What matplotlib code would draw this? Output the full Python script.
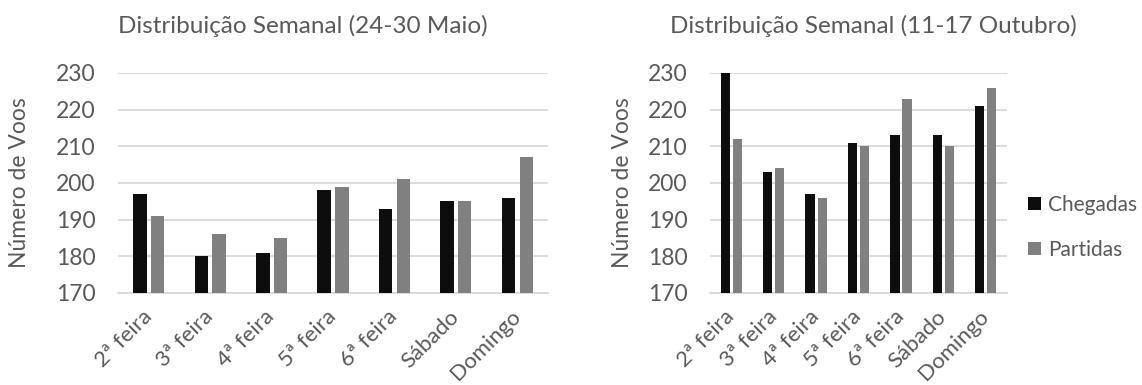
import matplotlib.pyplot as plt
import numpy as np

dias = ['2ª feira', '3ª feira', '4ª feira', '5ª feira', '6ª feira', 'Sábado', 'Domingo']
maio_chegadas = [197, 180, 181, 198, 193, 195, 196]
maio_partidas = [191, 186, 185, 199, 201, 195, 207]
out_chegadas = [230, 203, 197, 211, 213, 213, 221]
out_partidas = [212, 204, 196, 210, 223, 210, 226]
titulos = ['Distribuição Semanal (24-30 Maio)', 'Distribuição Semanal (11-17 Outubro)']

plt.rcParams['font.family'] = ['Lato', 'DejaVu Sans']
txt = '#595959'
fs = 16.5

fig = plt.figure(figsize=(11.42, 3.85), dpi=100)
ax1 = fig.add_axes([0.1033, 0.239, 0.3765, 0.5714])
ax2 = fig.add_axes([0.6217, 0.239, 0.2600, 0.5714])

x = np.arange(len(dias))
for ax, ch, pa in [(ax1, maio_chegadas, maio_partidas), (ax2, out_chegadas, out_partidas)]:
    ax.bar(x - 0.142, np.array(ch) - 170, 0.22, bottom=170, color='#0d0d0d', label='Chegadas', zorder=3)
    ax.bar(x + 0.146, np.array(pa) - 170, 0.215, bottom=170, color='#808080', label='Partidas', zorder=3)
    ax.set_ylim(170, 230)
    ax.set_xlim(-0.5, len(dias) - 0.5)
    ax.set_yticks(range(170, 231, 10))
    ax.grid(axis='y', color='#d9d9d9', linewidth=1.3, zorder=0)
    for s in ['top', 'right', 'left']:
        ax.spines[s].set_visible(False)
    ax.spines['bottom'].set_color('#d9d9d9')
    ax.spines['bottom'].set_linewidth(1.3)
    ax.tick_params(length=0, labelsize=fs, labelcolor=txt)
    ax.tick_params(axis='y', pad=16)
    ax.set_xticks(x)
    ax.set_xticklabels(dias, rotation=45, ha='right', va='center', rotation_mode='anchor', fontsize=16)
    ax.tick_params(axis='x', pad=15)

fig.text(0.0175, 0.525, 'Número de Voos', rotation=90, ha='center', va='center', fontsize=fs, color=txt)
fig.text(0.5455, 0.525, 'Número de Voos', rotation=90, ha='center', va='center', fontsize=fs, color=txt)
fig.text(0.2653, 0.914, titulos[0], ha='center', va='baseline', fontsize=17.5, color=txt)
fig.text(0.7644, 0.914, titulos[1], ha='center', va='baseline', fontsize=17.5, color=txt)

fig.legend(*ax2.get_legend_handles_labels(), loc='center left', bbox_to_anchor=(1028 / 1142, 1 - 227.5 / 385),
           frameon=False, fontsize=15, labelcolor=txt, borderpad=0, borderaxespad=0,
           handlelength=0.6, handleheight=0.6, handletextpad=0.35, labelspacing=1.2)

fig.savefig('out.png', dpi=100)
